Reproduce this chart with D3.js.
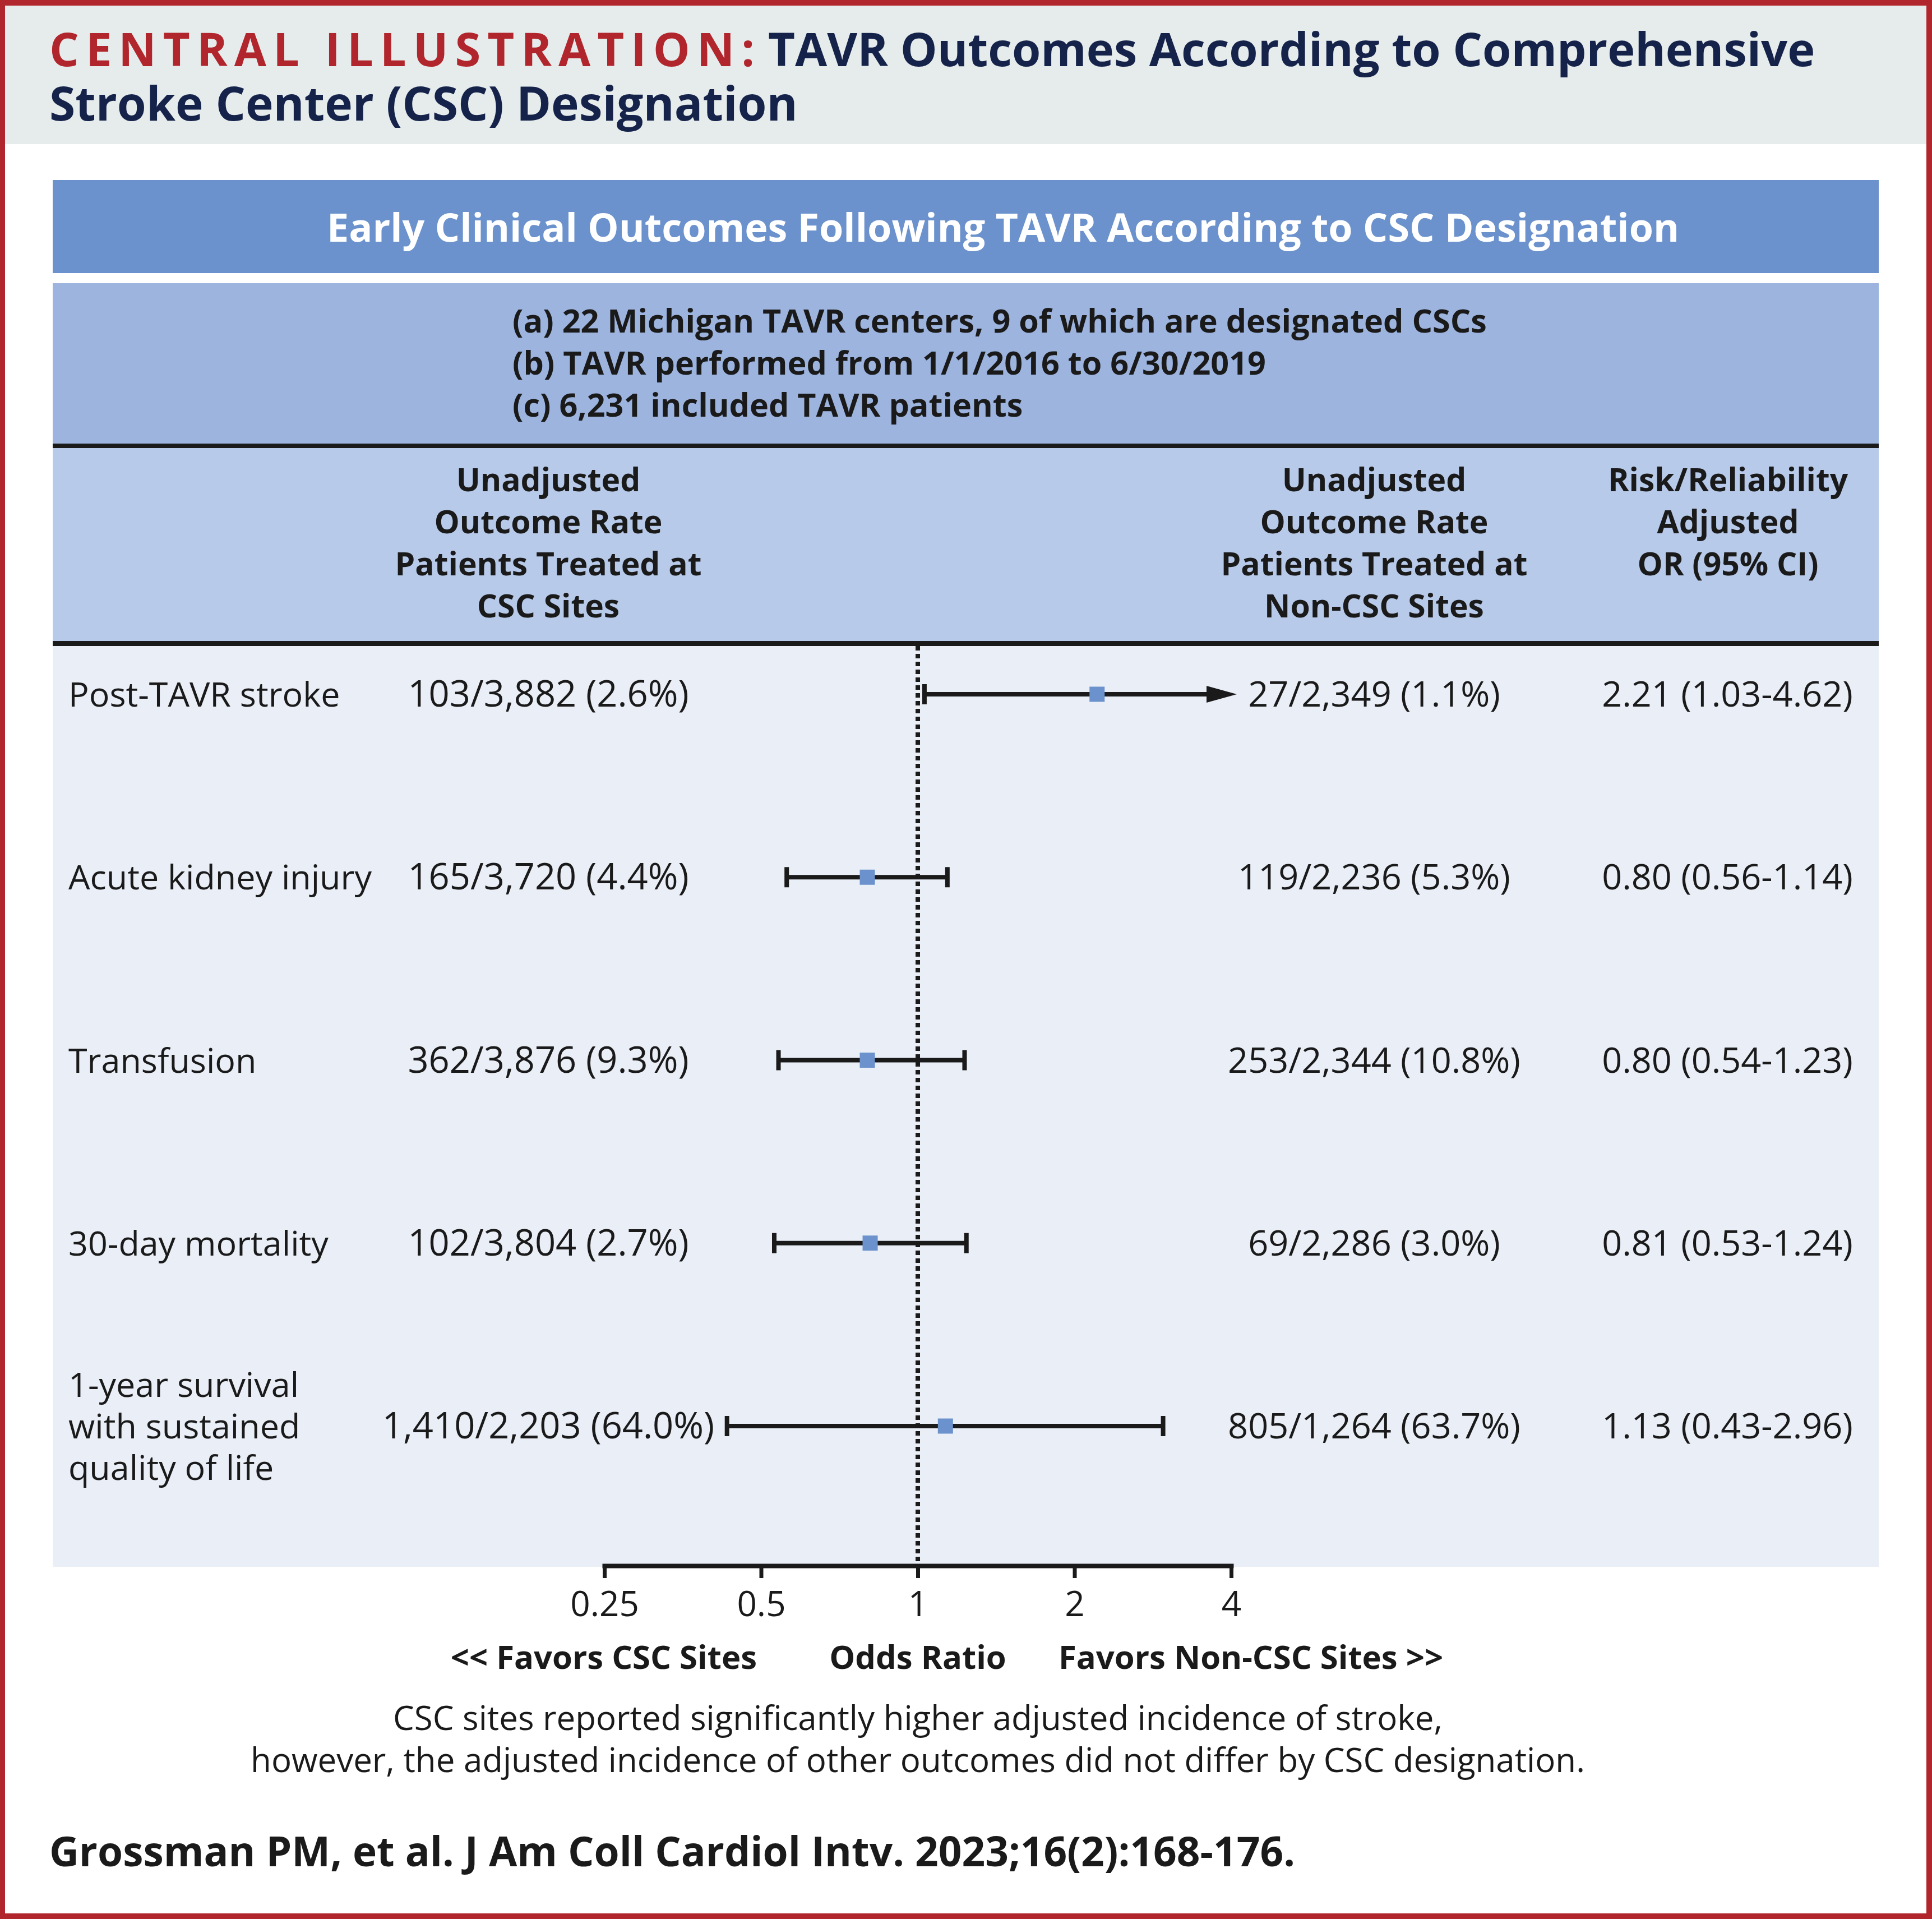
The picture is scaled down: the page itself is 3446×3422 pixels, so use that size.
<!DOCTYPE html>
<html>
<head>
<meta charset="utf-8">
<script src="https://cdn.jsdelivr.net/npm/d3@7"></script>
<style>
  body { margin: 0; background: #fff; }
  svg text { font-family: "Open Sans", "Noto Sans", sans-serif; }
</style>
</head>
<body>
<div id="container"></div>
<script>
/* DATA */
const outcomes = ["Post-TAVR stroke", "Acute kidney injury", "Transfusion", "30-day mortality", "1-year survival|with sustained|quality of life"];
const cscRates = ["103/3,882 (2.6%)", "165/3,720 (4.4%)", "362/3,876 (9.3%)", "102/3,804 (2.7%)", "1,410/2,203 (64.0%)"];
const nonCscRates = ["27/2,349 (1.1%)", "119/2,236 (5.3%)", "253/2,344 (10.8%)", "69/2,286 (3.0%)", "805/1,264 (63.7%)"];
const orEst = [2.21, 0.80, 0.80, 0.81, 1.13];
const orLow = [1.03, 0.56, 0.54, 0.53, 0.43];
const orHigh = [4.62, 1.14, 1.23, 1.24, 2.96];
const orText = ["2.21 (1.03-4.62)", "0.80 (0.56-1.14)", "0.80 (0.54-1.23)", "0.81 (0.53-1.24)", "1.13 (0.43-2.96)"];
const axisTicks = [0.25, 0.5, 1, 2, 4];
const infoLines = ["(a) 22 Michigan TAVR centers, 9 of which are designated CSCs", "(b) TAVR performed from 1/1/2016 to 6/30/2019", "(c) 6,231 included TAVR patients"];
const headCsc = ["Unadjusted", "Outcome Rate", "Patients Treated at", "CSC Sites"];
const headNon = ["Unadjusted", "Outcome Rate", "Patients Treated at", "Non-CSC Sites"];
const headOr = ["Risk/Reliability", "Adjusted", "OR (95% CI)"];

/* CONSTANTS */
const width = 3446, height = 3422;
const red = "#b1262c", navy = "#15224a", ink = "#1a1a1a", blue = "#6b92cc";
const panel = { left: 94, right: 3351 };

const svg = d3.select("#container")
  .append("svg")
  .attr("width", width)
  .attr("height", height);

// outer frame + header band
svg.append("rect").attr("x", 0).attr("y", 0).attr("width", width).attr("height", height).attr("fill", red);
svg.append("rect").attr("x", 9).attr("y", 10).attr("width", width - 19).attr("height", height - 20).attr("fill", "#fff");
svg.append("rect").attr("x", 9).attr("y", 10).attr("width", width - 19).attr("height", 247).attr("fill", "#e6ecec");

// title: red lead-in, then navy text placed right after it
const lead = svg.append("text").attr("x", 88).attr("y", 118)
  .attr("font-size", 83).attr("font-weight", 700).attr("fill", red)
  .attr("letter-spacing", 12)
  .text("CENTRAL ILLUSTRATION:");
const leadW = lead.node().getComputedTextLength();
svg.append("text").attr("x", 88 + leadW + 12).attr("y", 118)
  .attr("font-size", 83).attr("font-weight", 700).attr("fill", navy)
  .text("TAVR Outcomes According to Comprehensive");
svg.append("text").attr("x", 88).attr("y", 215)
  .attr("font-size", 84).attr("font-weight", 700).attr("fill", navy)
  .text("Stroke Center (CSC) Designation");

// panel boxes
const pw = panel.right - panel.left;
svg.append("rect").attr("x", panel.left).attr("y", 321).attr("width", pw).attr("height", 166).attr("fill", blue);
svg.append("rect").attr("x", panel.left).attr("y", 505).attr("width", pw).attr("height", 287).attr("fill", "#9db4df");
svg.append("rect").attr("x", panel.left).attr("y", 791).attr("width", pw).attr("height", 8).attr("fill", ink);
svg.append("rect").attr("x", panel.left).attr("y", 799).attr("width", pw).attr("height", 345).attr("fill", "#b8cae9");
svg.append("rect").attr("x", panel.left).attr("y", 1143).attr("width", pw).attr("height", 9).attr("fill", ink);
svg.append("rect").attr("x", panel.left).attr("y", 1152).attr("width", pw).attr("height", 1642).attr("fill", "#e9eef7");

svg.append("text").attr("x", 1789).attr("y", 431).attr("text-anchor", "middle")
  .attr("font-size", 70).attr("font-weight", 700).attr("fill", "#fff")
  .text("Early Clinical Outcomes Following TAVR According to CSC Designation");

svg.selectAll("text.info").data(infoLines).join("text")
  .attr("class", "info").attr("x", 914).attr("y", (d, i) => 593 + i * 75)
  .attr("font-size", 57.5).attr("font-weight", 700).attr("fill", ink)
  .text(d => d);

function headCol(lines, cx) {
  svg.append("g").selectAll("text").data(lines).join("text")
    .attr("x", cx).attr("y", (d, i) => 876 + i * 75).attr("text-anchor", "middle")
    .attr("font-size", 57).attr("font-weight", 700).attr("fill", ink)
    .text(d => d);
}
headCol(headCsc, 978);
headCol(headNon, 2451);
headCol(headOr, 3082);

/* SCALES */
const xScale = d3.scaleLog().base(2).domain([0.25, 4]).range([1078, 2196]);
const yScale = d3.scalePoint().domain(outcomes).range([1238, 2543]);

// reference line at OR = 1
svg.append("line")
  .attr("x1", xScale(1)).attr("x2", xScale(1))
  .attr("y1", 1152).attr("y2", 2792)
  .attr("stroke", ink).attr("stroke-width", 8).attr("stroke-dasharray", "8,6");

// row text + CI marks
const rows = svg.append("g").selectAll("g").data(outcomes).join("g")
  .attr("transform", d => `translate(0,${yScale(d)})`);

rows.each(function (d, i) {
  const g = d3.select(this);
  const lines = d.split("|");
  g.selectAll("text.label").data(lines).join("text")
    .attr("class", "label").attr("x", 122)
    .attr("y", (l, j) => 22 + (j - (lines.length - 1) / 2) * 74)
    .attr("font-size", 61).attr("fill", ink).text(l => l);
  g.append("text").attr("x", 978).attr("y", 22).attr("text-anchor", "middle")
    .attr("font-size", 65).attr("fill", ink).text(cscRates[i]);
  g.append("text").attr("x", 2451).attr("y", 22).attr("text-anchor", "middle")
    .attr("font-size", 63).attr("fill", ink).text(nonCscRates[i]);
  g.append("text").attr("x", 3081).attr("y", 22).attr("text-anchor", "middle")
    .attr("font-size", 63).attr("fill", ink).text(orText[i]);

  // CI line
  const maxOr = xScale.domain()[1];
  const clipped = orHigh[i] > maxOr;
  const xHi = clipped ? xScale(maxOr) : xScale(orHigh[i]);
  g.append("line").attr("x1", xScale(orLow[i])).attr("x2", clipped ? xHi - 20 : xHi)
    .attr("y1", 0).attr("y2", 0).attr("stroke", ink).attr("stroke-width", 8);
  g.append("line").attr("x1", xScale(orLow[i])).attr("x2", xScale(orLow[i]))
    .attr("y1", -18).attr("y2", 18).attr("stroke", ink).attr("stroke-width", 8);
  if (clipped) {
    const tip = xHi + 10;
    g.append("path").attr("d", `M${tip},0 L${tip - 54},-15 L${tip - 54},15 Z`).attr("fill", ink);
  } else {
    g.append("line").attr("x1", xHi).attr("x2", xHi)
      .attr("y1", -18).attr("y2", 18).attr("stroke", ink).attr("stroke-width", 8);
  }
  // point estimate
  g.append("rect").attr("x", xScale(orEst[i]) - 13.5).attr("y", -13.5)
    .attr("width", 27).attr("height", 27).attr("fill", blue);
});

/* AXIS */
const xAxis = d3.axisBottom(xScale)
  .tickValues(axisTicks)
  .tickFormat(d => String(d))
  .tickSize(22)
  .tickSizeOuter(0)
  .tickPadding(24);

const axisG = svg.append("g")
  .attr("transform", "translate(0,2792)")
  .call(xAxis);
axisG.select(".domain").attr("stroke", ink).attr("stroke-width", 8).attr("stroke-linecap", "square");
axisG.selectAll(".tick line").attr("stroke", ink).attr("stroke-width", 7);
axisG.selectAll(".tick text")
  .attr("font-size", 62).attr("fill", ink)
  .attr("font-family", "'Open Sans', sans-serif");

const axisLabels = [
  { t: "<< Favors CSC Sites", x: 1350, a: "end" },
  { t: "Odds Ratio", x: xScale(1), a: "middle" },
  { t: "Favors Non-CSC Sites >>", x: 1888, a: "start" }
];
svg.selectAll("text.axlab").data(axisLabels).join("text")
  .attr("class", "axlab").attr("x", d => d.x).attr("y", 2976)
  .attr("text-anchor", d => d.a)
  .attr("font-size", 58).attr("font-weight", 700).attr("fill", ink)
  .text(d => d.t);

// footnote
svg.append("text").attr("x", xScale(1)).attr("y", 3085).attr("text-anchor", "middle")
  .attr("font-size", 60).attr("fill", ink)
  .text("CSC sites reported significantly higher adjusted incidence of stroke,");
svg.append("text").attr("x", xScale(1)).attr("y", 3160).attr("text-anchor", "middle")
  .attr("font-size", 60).attr("fill", ink)
  .text("however, the adjusted incidence of other outcomes did not differ by CSC designation.");

svg.append("text").attr("x", 88).attr("y", 3328)
  .attr("font-size", 73).attr("font-weight", 700).attr("fill", ink)
  .text("Grossman PM, et al. J Am Coll Cardiol Intv. 2023;16(2):168-176.");
</script>
</body>
</html>
